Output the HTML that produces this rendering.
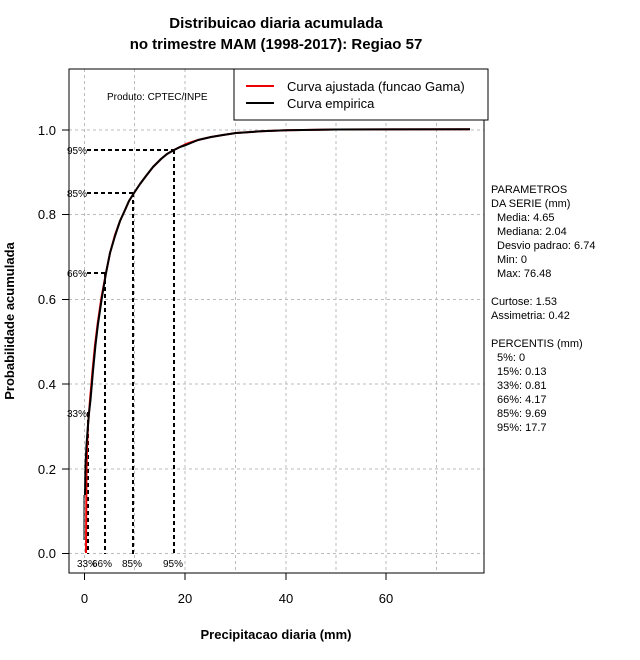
<!DOCTYPE html>
<html><head><meta charset="utf-8"><style>
body{margin:0;background:#fff}
svg{display:block;font-family:"Liberation Sans",sans-serif}
</style></head><body>
<svg width="640" height="660" viewBox="0 0 640 660" xmlns="http://www.w3.org/2000/svg">
<text x="276" y="28" font-size="15" font-weight="bold" text-anchor="middle">Distribuicao diaria acumulada</text>
<text x="276" y="49" font-size="15" font-weight="bold" text-anchor="middle">no trimestre MAM (1998-2017): Regiao 57</text>
<g stroke="#bbb" stroke-dasharray="3,3" stroke-width="1">
<line x1="84.5" y1="69" x2="84.5" y2="573"/><line x1="134.5" y1="69" x2="134.5" y2="573"/><line x1="185" y1="69" x2="185" y2="573"/><line x1="235.5" y1="69" x2="235.5" y2="573"/><line x1="286" y1="69" x2="286" y2="573"/><line x1="336" y1="69" x2="336" y2="573"/><line x1="386" y1="69" x2="386" y2="573"/><line x1="436.5" y1="69" x2="436.5" y2="573"/>
<line x1="69" y1="553.5" x2="484" y2="553.5"/><line x1="69" y1="469" x2="484" y2="469"/><line x1="69" y1="384" x2="484" y2="384"/><line x1="69" y1="299.5" x2="484" y2="299.5"/><line x1="69" y1="214.5" x2="484" y2="214.5"/><line x1="69" y1="130" x2="484" y2="130"/>
</g>
<rect x="69" y="69" width="415" height="504" fill="none" stroke="#000"/>
<g stroke="#000" stroke-width="2" stroke-dasharray="4,3">
<line x1="87" y1="150" x2="174" y2="150"/><line x1="174" y1="150" x2="174" y2="554"/>
<line x1="87" y1="193" x2="133" y2="193"/><line x1="133" y1="193" x2="133" y2="554"/>
<line x1="87" y1="273" x2="105" y2="273"/><line x1="105" y1="273" x2="105" y2="554"/>
<line x1="87" y1="413" x2="88" y2="413"/><line x1="88" y1="413" x2="88" y2="554"/>
</g>
<g font-size="10">
<text x="67" y="154">95%</text><text x="67" y="197">85%</text><text x="67" y="277">66%</text><text x="67" y="417">33%</text>
<text x="77" y="567">33%</text><text x="92" y="567">66%</text><text x="122" y="567">85%</text><text x="163" y="567">95%</text>
</g>
<polyline fill="none" stroke="#e00" stroke-width="2" stroke-linejoin="round" points="86,553 86.5,470 87,450 88,425 89,413 90,400 92.5,371 95,345 97.6,324 101.5,297 106,273 110,253 115,235 120,221 125,210 129,201 134,193 140,184 146,176 153,167 161,159 167,154 174,150 180,147 186,144 198,140 211,137 223,135 236,133 261,131.3 286,130.3 336,129.5 470,129.3"/>
<polyline fill="none" stroke="#000" stroke-width="2" stroke-linejoin="round" points="85,495 85.5,465 86.5,445 88,425 89,413 90.5,400 93,371 95.5,345 98,324 102,297 106,273 110,253 115,236 120,221 125,210 129,201 134,193 140,184 146,176 153,167 161,159 167,154 174,150 180,147 186,145 198,140 211,137 223,135 236,133 261,131.3 286,130.3 336,129.5 470,129.3"/>
<line x1="84" y1="495" x2="84" y2="540" stroke="#000" stroke-width="1"/>
<rect x="234" y="69" width="254" height="51" fill="#fff" stroke="#000"/>
<line x1="246" y1="86" x2="274" y2="86" stroke="#e00" stroke-width="2"/>
<line x1="246" y1="103" x2="274" y2="103" stroke="#000" stroke-width="2"/>
<text x="287" y="91" font-size="13">Curva ajustada (funcao Gama)</text>
<text x="287" y="108" font-size="13">Curva empirica</text>
<text x="107" y="100" font-size="10">Produto: CPTEC/INPE</text>
<g stroke="#000"><line x1="69" y1="553.5" x2="62" y2="553.5"/><line x1="69" y1="469" x2="62" y2="469"/><line x1="69" y1="384" x2="62" y2="384"/><line x1="69" y1="299.5" x2="62" y2="299.5"/><line x1="69" y1="214.5" x2="62" y2="214.5"/><line x1="69" y1="130" x2="62" y2="130"/>
<line x1="84.5" y1="573" x2="84.5" y2="580"/><line x1="185" y1="573" x2="185" y2="580"/><line x1="286" y1="573" x2="286" y2="580"/><line x1="386" y1="573" x2="386" y2="580"/></g>
<g font-size="13" text-anchor="end"><text x="56" y="558">0.0</text><text x="56" y="474">0.2</text><text x="56" y="389">0.4</text><text x="56" y="304">0.6</text><text x="56" y="219">0.8</text><text x="56" y="135">1.0</text></g>
<g font-size="13" text-anchor="middle"><text x="84.5" y="603">0</text><text x="185" y="603">20</text><text x="286" y="603">40</text><text x="386" y="603">60</text></g>
<text x="276" y="639" font-size="13" font-weight="bold" text-anchor="middle">Precipitacao diaria (mm)</text>
<text transform="translate(14,321) rotate(-90)" font-size="13" font-weight="bold" text-anchor="middle">Probabilidade acumulada</text>
<g font-size="11">
<text x="491" y="193">PARAMETROS</text><text x="491" y="207">DA SERIE (mm)</text>
<text x="497" y="221">Media: 4.65</text><text x="497" y="235">Mediana: 2.04</text><text x="497" y="249">Desvio padrao: 6.74</text><text x="497" y="263">Min: 0</text><text x="497" y="277">Max: 76.48</text>
<text x="491" y="305">Curtose: 1.53</text><text x="491" y="319">Assimetria: 0.42</text>
<text x="491" y="347">PERCENTIS (mm)</text>
<text x="497" y="361">5%: 0</text><text x="497" y="375">15%: 0.13</text><text x="497" y="389">33%: 0.81</text><text x="497" y="403">66%: 4.17</text><text x="497" y="417">85%: 9.69</text><text x="497" y="431">95%: 17.7</text>
</g>
</svg>
</body></html>
